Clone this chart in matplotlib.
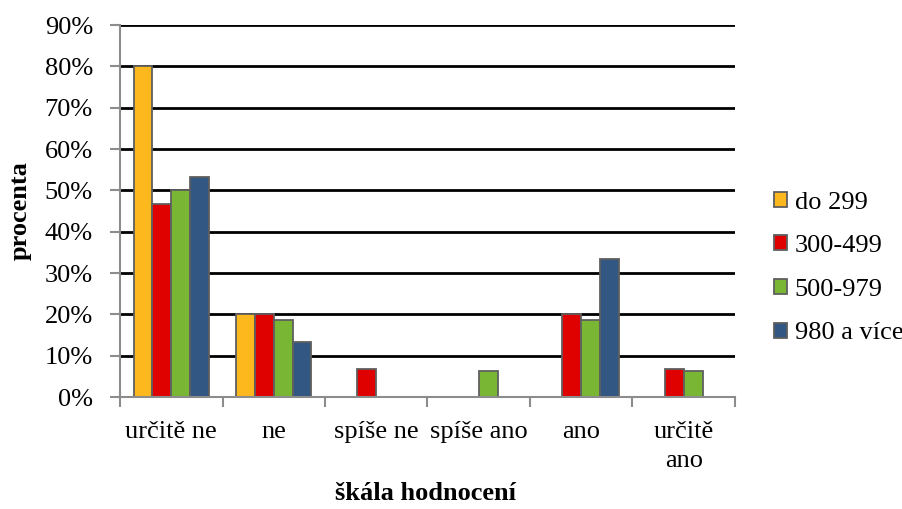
import numpy as np
import matplotlib
matplotlib.use('Agg')
from matplotlib import pyplot as plt
from matplotlib.ticker import FixedLocator, PercentFormatter

categories = ['určitě ne', 'ne', 'spíše ne', 'spíše ano', 'ano', 'určitě\nano']
series = ['do 299', '300-499', '500-979', '980 a více']
do_299 = [80.0, 20.0, 0.0, 0.0, 0.0, 0.0]
s_300_499 = [46.7, 20.0, 6.7, 0.0, 20.0, 6.7]
s_500_979 = [50.0, 18.75, 0.0, 6.25, 18.75, 6.25]
s_980 = [53.3, 13.3, 0.0, 0.0, 33.3, 0.0]
values = [do_299, s_300_499, s_500_979, s_980]
colors = ['#FDB81E', '#DF0000', '#79B633', '#335783']

plt.rcParams['font.family'] = ['Liberation Serif', 'DejaVu Serif']
fs = 19

fig = plt.figure(figsize=(9.03, 5.09), dpi=100)
ax = fig.add_axes([120/903, 1-397/509, 615/903, (397-25)/509])

x = np.arange(len(categories))
w = 0.183
for i, (name, vals, c) in enumerate(zip(series, values, colors)):
    ax.bar(x + (i - 1.5)*w, vals, w, color=c, edgecolor='#5f5f5f', linewidth=1.3,
           label=name, zorder=3)

ax.set_xlim(-0.5, len(categories)-0.5)
ax.set_ylim(0, 90)
ax.set_yticks(np.arange(0, 91, 10))
ax.yaxis.set_major_formatter(PercentFormatter(decimals=0))
for yv in np.arange(10, 91, 10):
    ax.axhline(yv, color='black', linewidth=2, zorder=1)

ax.set_xticks(x)
ax.set_xticklabels(categories, fontsize=fs, linespacing=1.45)
ax.xaxis.set_minor_locator(FixedLocator(np.arange(-0.5, len(categories), 1)))
ax.tick_params(axis='x', which='major', length=0, pad=17)
ax.tick_params(axis='x', which='minor', length=7.5, width=1.5, color='#8c8c8c')
ax.tick_params(axis='y', length=7.5, width=1.5, color='#8c8c8c', labelsize=fs, pad=12)

for s in ['top', 'right']:
    ax.spines[s].set_visible(False)
for s in ['left', 'bottom']:
    ax.spines[s].set_color('#8c8c8c')
    ax.spines[s].set_linewidth(1.5)
ax.spines['bottom'].set_zorder(4)

fig.text(20/903, 1-211/509, 'procenta', rotation=90, fontsize=fs, fontweight='bold',
         ha='center', va='center')
fig.text(426/903, 1-493/509, 'škála hodnocení', fontsize=fs, fontweight='bold',
         ha='center', va='center')

leg = fig.legend(loc='center left', bbox_to_anchor=(750/903, 1-268/509), frameon=False,
                 fontsize=fs, handlelength=0.5, handleheight=0.5, handletextpad=0.3,
                 labelspacing=0.82)

fig.savefig('out.png', dpi=100)
